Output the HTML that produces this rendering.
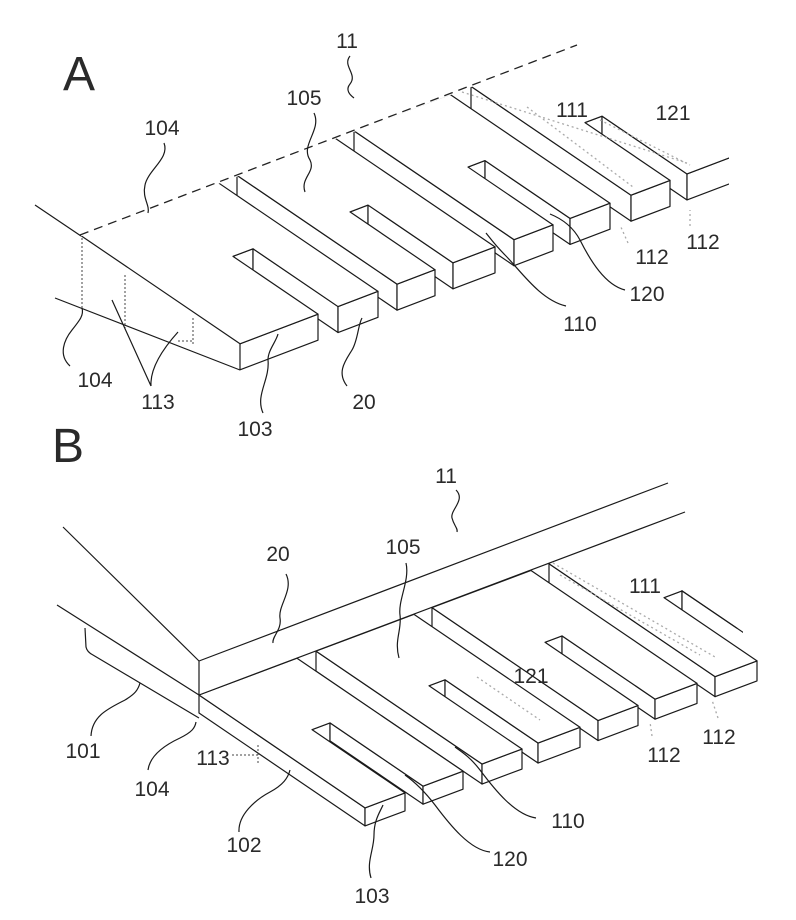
<!DOCTYPE html>
<html><head><meta charset="utf-8"><style>
html,body{margin:0;padding:0;background:#fff;}
svg{display:block;}
text{font-family:"Liberation Sans",sans-serif;font-size:21px;fill:#2a2a2a;text-anchor:middle;}
.s{fill:#fff;stroke:#1a1a1a;stroke-width:1.2;vector-effect:non-scaling-stroke;stroke-linejoin:round;}
.f{fill:#fff;stroke:none;}
.o{fill:none;stroke:#1a1a1a;stroke-width:1.2;vector-effect:non-scaling-stroke;stroke-linejoin:round;}
.l{fill:none;stroke:#1a1a1a;stroke-width:1.2;}
.g{fill:none;stroke:#aaa;stroke-width:1.3;stroke-dasharray:2 3;}
.d{fill:none;stroke:#444;stroke-width:1;stroke-dasharray:2 2;}
</style></head><body>
<svg width="796" height="920" viewBox="0 0 796 920" xmlns="http://www.w3.org/2000/svg">
<defs>
<clipPath id="ca"><rect x="0" y="0" width="729" height="460"/></clipPath>
<clipPath id="cb"><rect x="0" y="460" width="743" height="460"/></clipPath>
</defs>

<!-- ============ FIGURE A ============ -->
<text x="79" y="90" style="font-size:48px">A</text>

<!-- T3 -->
<g clip-path="url(#ca)">
<g transform="matrix(1,0.68,0,1,80,235)"><rect class="s" transform="translate(391,-414.5)" x="0" y="0" width="160" height="26"/></g>
<g transform="matrix(1,-0.38,0,1,155,286)"><rect class="s" x="430" y="0" width="17" height="26"/></g>
<g transform="matrix(1,0.68,0,1,80,235)"><rect class="s" transform="translate(447,-473.8)" x="75" y="0" width="85" height="26"/></g>
<g transform="matrix(1,-0.38,0,1,240,343.8)"><rect class="s" x="391" y="0" width="39" height="26"/><rect class="s" x="447" y="0" width="80" height="26"/></g>
<g transform="matrix(1,0.68,1,-0.38,80,235)"><polygon class="f" points="0,391 160,391 160,430 75,430 75,447 160,447 160,500 0,500"/><path class="o" d="M0,391 L160,391 L160,430 L75,430 L75,447 L160,447 L160,500"/></g>
</g>
<!-- T2 -->
<g transform="matrix(1,0.68,0,1,80,235)"><rect class="s" transform="translate(274,-290.4)" x="0" y="0" width="160" height="26"/></g>
<g transform="matrix(1,-0.38,0,1,155,286)"><rect class="s" x="313" y="0" width="17" height="26"/></g>
<g transform="matrix(1,0.68,0,1,80,235)"><rect class="s" transform="translate(330,-349.8)" x="75" y="0" width="85" height="26"/></g>
<g transform="matrix(1,-0.38,0,1,240,343.8)"><rect class="s" x="274" y="0" width="39" height="26"/><rect class="s" x="330" y="0" width="40" height="26"/></g>
<g transform="matrix(1,0.68,1,-0.38,80,235)"><polygon class="s" points="0,274 160,274 160,313 75,313 75,330 160,330 160,370 0,370"/></g>
<!-- T1 -->
<g transform="matrix(1,0.68,0,1,80,235)"><rect class="s" transform="translate(157,-166.4)" x="0" y="0" width="160" height="26"/></g>
<g transform="matrix(1,-0.38,0,1,155,286)"><rect class="s" x="195" y="0" width="18" height="26"/></g>
<g transform="matrix(1,0.68,0,1,80,235)"><rect class="s" transform="translate(213,-225.8)" x="75" y="0" width="85" height="26"/></g>
<g transform="matrix(1,-0.38,0,1,240,343.8)"><rect class="s" x="157" y="0" width="38" height="26"/><rect class="s" x="213" y="0" width="42" height="26"/></g>
<g transform="matrix(1,0.68,1,-0.38,80,235)"><polygon class="s" points="0,157 160,157 160,195 75,195 75,213 160,213 160,255 0,255"/></g>
<!-- T0 -->
<polygon points="80,235 240,344 240,370 82,310" fill="#fff"/>
<g transform="matrix(1,-0.38,0,1,155,286)"><rect class="s" x="78" y="0" width="20" height="26"/></g>
<g transform="matrix(1,0.68,0,1,80,235)"><rect class="s" transform="translate(98,-103.9)" x="75" y="0" width="85" height="26"/></g>
<g transform="matrix(1,-0.38,0,1,240,343.8)"><rect class="s" x="0" y="0" width="78" height="26"/><rect class="s" x="98" y="0" width="40" height="26"/></g>
<g transform="matrix(1,0.68,1,-0.38,80,235)"><polygon class="s" points="0,0 160,0 160,78 75,78 75,98 160,98 160,138 0,138"/></g>

<!-- back dashed edge -->
<line x1="80" y1="235" x2="577" y2="45" stroke="#fff" stroke-width="3"/>
<line x1="80" y1="235" x2="577" y2="45" stroke="#222" stroke-width="1.3" stroke-dasharray="9 6"/>
<path class="l" d="M35,205 L81,236 M55,298 L240,370"/>
<path class="d" d="M82,238 L82,308 M125,275 L125,330 M193,318 L193,345 M178,341 L193,341"/>

<!-- gray hidden lines -->
<path class="g" d="M462,92 L687,163 M527,107 L633,187 M600,120 L690,165"/>

<!-- leaders A -->
<path class="l" d="M350,56 C342,66 358,74 350,84 C345,90 350,95 354,98"/>
<path class="l" d="M314,113 C322,130 300,145 310,160 C316,172 300,178 305,192"/>
<path class="l" d="M164,143 C170,158 148,170 145,185 C142,198 150,205 148,213"/>
<path class="l" d="M70,366 C58,355 64,340 72,330 C80,320 84,315 82,308"/>
<path class="l" d="M151,386 L112,300 M151,386 C150,370 160,352 178,332"/>
<path class="l" d="M263,413 C255,395 270,380 268,360 C268,350 276,342 278,334"/>
<path class="l" d="M347,386 C336,372 346,360 352,350 C358,340 358,325 362,318"/>
<path class="l" d="M566,306 C540,300 520,270 505,255 C495,245 490,238 486,233"/>
<path class="l" d="M625,290 C605,285 590,260 580,240 C572,225 560,218 550,214"/>
<path class="g" d="M628,243 L620,225 M690,226 L690,210"/>

<!-- labels A -->
<text x="347" y="48">11</text>
<text x="304" y="105">105</text>
<text x="162" y="135">104</text>
<text x="572" y="117">111</text>
<text x="673" y="120">121</text>
<text x="703" y="249">112</text>
<text x="652" y="264">112</text>
<text x="647" y="301">120</text>
<text x="580" y="331">110</text>
<text x="364" y="409">20</text>
<text x="255" y="436">103</text>
<text x="158" y="409">113</text>
<text x="95" y="387">104</text>

<!-- ============ FIGURE B ============ -->
<text x="68" y="462" style="font-size:48px">B</text>

<!-- T3 -->
<g clip-path="url(#cb)">
<g transform="matrix(1,0.68,0,1,199,695)"><rect class="s" transform="translate(350,-369.3)" x="0" y="0" width="166" height="20"/></g>
<g transform="matrix(1,-0.375,0,1,272,744.6)"><rect class="s" x="392" y="0" width="18" height="20"/></g>
<g transform="matrix(1,0.68,0,1,199,695)"><rect class="s" transform="translate(410,-432.6)" x="73" y="0" width="93" height="20"/></g>
</g>
<g transform="matrix(1,-0.375,0,1,365,807.9)"><rect class="s" x="350" y="0" width="42" height="20"/></g>
<g transform="matrix(1,0.68,1,-0.375,199,695)"><polygon class="f" points="0,350 166,350 166,392 73,392 73,410 0,410"/><path class="o" d="M0,350 L166,350 L166,392 L73,392 L73,410 L128,410"/></g>
<!-- T2 -->
<g transform="matrix(1,0.68,0,1,199,695)"><rect class="s" transform="translate(233,-245.8)" x="0" y="0" width="166" height="20"/></g>
<g transform="matrix(1,-0.375,0,1,272,744.6)"><rect class="s" x="273" y="0" width="17" height="20"/></g>
<g transform="matrix(1,0.68,0,1,199,695)"><rect class="s" transform="translate(290,-306)" x="73" y="0" width="93" height="20"/></g>
<g transform="matrix(1,-0.375,0,1,365,807.9)"><rect class="s" x="233" y="0" width="40" height="20"/><rect class="s" x="290" y="0" width="42" height="20"/></g>
<g transform="matrix(1,0.68,1,-0.375,199,695)"><polygon class="s" points="0,233 166,233 166,273 73,273 73,290 166,290 166,332 0,332"/></g>
<!-- T1 -->
<g transform="matrix(1,0.68,0,1,199,695)"><rect class="s" transform="translate(117,-123.4)" x="0" y="0" width="166" height="20"/></g>
<g transform="matrix(1,-0.375,0,1,272,744.6)"><rect class="s" x="157" y="0" width="16" height="20"/></g>
<g transform="matrix(1,0.68,0,1,199,695)"><rect class="s" transform="translate(173,-182.5)" x="73" y="0" width="93" height="20"/></g>
<g transform="matrix(1,-0.375,0,1,365,807.9)"><rect class="s" x="117" y="0" width="40" height="20"/><rect class="s" x="173" y="0" width="42" height="20"/></g>
<g transform="matrix(1,0.68,1,-0.375,199,695)"><polygon class="s" points="0,117 166,117 166,157 73,157 73,173 166,173 166,215 0,215"/></g>
<!-- T0 -->
<g transform="matrix(1,0.68,0,1,199,695)"><rect class="s" x="0" y="0" width="166" height="18"/></g>
<g transform="matrix(1,-0.375,0,1,272,744.6)"><rect class="s" x="40" y="0" width="18" height="18"/></g>
<g transform="matrix(1,0.68,0,1,199,695)"><rect class="s" transform="translate(58,-61.2)" x="73" y="0" width="93" height="18"/></g>
<g transform="matrix(1,-0.375,0,1,365,807.9)"><rect class="s" x="0" y="0" width="40" height="18"/><rect class="s" x="58" y="0" width="40" height="18"/></g>
<g transform="matrix(1,0.68,1,-0.375,199,695)"><polygon class="s" points="0,0 166,0 166,40 73,40 73,58 166,58 166,98 0,98"/></g>

<!-- bar 20 and left parts -->
<polygon points="199,661 668,483 685,512 199,695" fill="#fff"/>
<path class="l" d="M199,661 L668,483 M199,695 L685,512 M199,661 L199,695 M63,527 L199,661 M57,605 L199,695 M85,628 L86,647 Q87,652 93,655 L199,718"/>

<path class="g" d="M553,563 L715,657 M477,677 L540,720 M560,575 L700,655"/>

<!-- leaders B -->
<path class="l" d="M456,490 C466,500 450,510 452,518 C454,526 458,528 457,532"/>
<path class="l" d="M286,574 C294,590 278,605 280,618 C282,630 272,636 273,643"/>
<path class="l" d="M406,563 C410,580 398,600 400,615 C402,630 394,640 399,658"/>
<path class="l" d="M91,736 C92,715 110,708 125,700 C135,694 138,690 140,683"/>
<path class="l" d="M148,770 C150,755 165,745 180,738 C192,732 195,728 196,722"/>
<path class="l" d="M239,832 C238,815 255,800 270,792 C283,785 288,778 290,770"/>
<path class="l" d="M371,878 C366,862 374,850 374,835 C374,820 380,812 383,805"/>
<path class="l" d="M536,818 C515,815 495,790 480,770 C470,757 462,752 455,747"/>
<path class="l" d="M490,852 C470,850 450,825 435,805 C422,788 412,780 405,775"/>
<path class="d" d="M232,755 L258,755 M258,745 L258,765"/>
<path class="g" d="M652,736 L650,722 M718,718 L712,700"/>

<!-- labels B -->
<text x="446" y="483">11</text>
<text x="278" y="561">20</text>
<text x="403" y="554">105</text>
<text x="645" y="593">111</text>
<text x="531" y="683">121</text>
<text x="719" y="744">112</text>
<text x="664" y="762">112</text>
<text x="83" y="758">101</text>
<text x="152" y="796">104</text>
<text x="213" y="765">113</text>
<text x="568" y="828">110</text>
<text x="244" y="852">102</text>
<text x="510" y="866">120</text>
<text x="372" y="903">103</text>
</svg>
</body></html>
